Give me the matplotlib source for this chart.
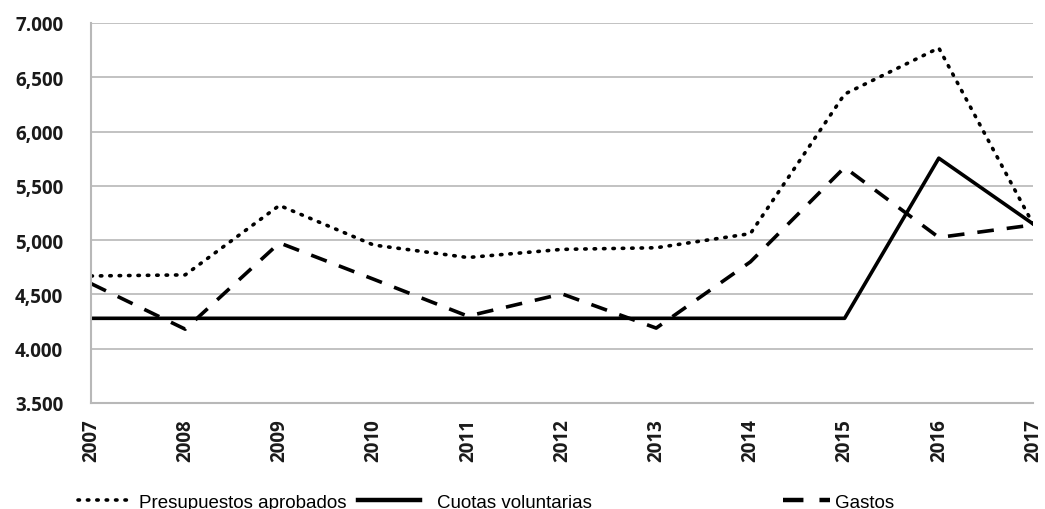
import matplotlib
matplotlib.use("Agg")
import matplotlib.pyplot as plt
from matplotlib.lines import Line2D

years = [2007, 2008, 2009, 2010, 2011, 2012, 2013, 2014, 2015, 2016, 2017]
presupuestos = [4670, 4680, 5320, 4955, 4840, 4915, 4930, 5060, 6345, 6770, 5150]
cuotas = [4280, 4280, 4280, 4280, 4280, 4280, 4280, 4280, 4280, 5755, 5150]
gastos = [4600, 4180, 4975, 4640, 4300, 4505, 4190, 4800, 5670, 5025, 5140]
ytick_vals = [3500, 4000, 4500, 5000, 5500, 6000, 6500, 7000]
ytick_labels = ["3.500", "4.000", "4,500", "5,000", "5,500", "6,000", "6,500", "7.000"]
series_names = ["Presupuestos aprobados", "Cuotas voluntarias", "Gastos"]

fig = plt.figure(figsize=(10.45, 5.1), dpi=100)
ax = fig.add_axes([91/1045, 1-404/510, (1033-91)/1045, (404-24)/510])

dot_style = (0, (0.4, 2.2))
dash_style = (0, (4.6, 3.6))
LW = 2.6
ax.plot(years, presupuestos, color="black", lw=LW, linestyle=dot_style,
        dash_capstyle="round")
ax.plot(years, cuotas, color="black", lw=LW, linestyle="-")
ax.plot(years, gastos, color="black", lw=LW, linestyle=dash_style)

ax.set_xlim(2007, 2017)
ax.set_ylim(3500, 7000)
ax.set_yticks(ytick_vals)
ax.set_yticklabels(ytick_labels)
ax.set_xticks(years)
ax.set_xticklabels([str(y) for y in years], rotation=90)
ax.grid(axis="y", color="#b8b8b8", lw=1.2)
ax.set_axisbelow(True)
for s in ["top", "right"]:
    ax.spines[s].set_visible(False)
for s in ["left", "bottom"]:
    ax.spines[s].set_color("#b8b8b8")
    ax.spines[s].set_linewidth(1.5)
ax.tick_params(axis="both", length=0)
ax.tick_params(axis="y", pad=20)
ax.tick_params(axis="x", pad=11)
for lab in ax.get_yticklabels() + ax.get_xticklabels():
    lab.set_fontweight("bold")
    lab.set_fontsize(13.5)
    lab.set_family(["Open Sans", "DejaVu Sans"])
    lab.set_color("#1a1a1a")

legend_font = {"family": ["Liberation Sans", "DejaVu Sans"], "size": 13.5}
handles = [
    Line2D([], [], color="black", lw=LW, linestyle=dot_style, dash_capstyle="round"),
    Line2D([], [], color="black", lw=LW + 0.6, linestyle="-"),
    Line2D([], [], color="black", lw=LW + 0.6, linestyle=dash_style),
]
anchors = [(78/1045, 1-503/510), (358/1045, 1-503/510), (783/1045, 1-503/510)]
hl = [3.0, 3.3, 2.5]
tp = [0.27, 0.9, 0.27]
for h, name, anc, L, p in zip(handles, series_names, anchors, hl, tp):
    fig.legend([h], [name], loc="center left", bbox_to_anchor=anc,
               frameon=False, prop=legend_font, handlelength=L,
               handletextpad=p, borderaxespad=0, borderpad=0)

fig.savefig("out.png", dpi=100, facecolor="white")
